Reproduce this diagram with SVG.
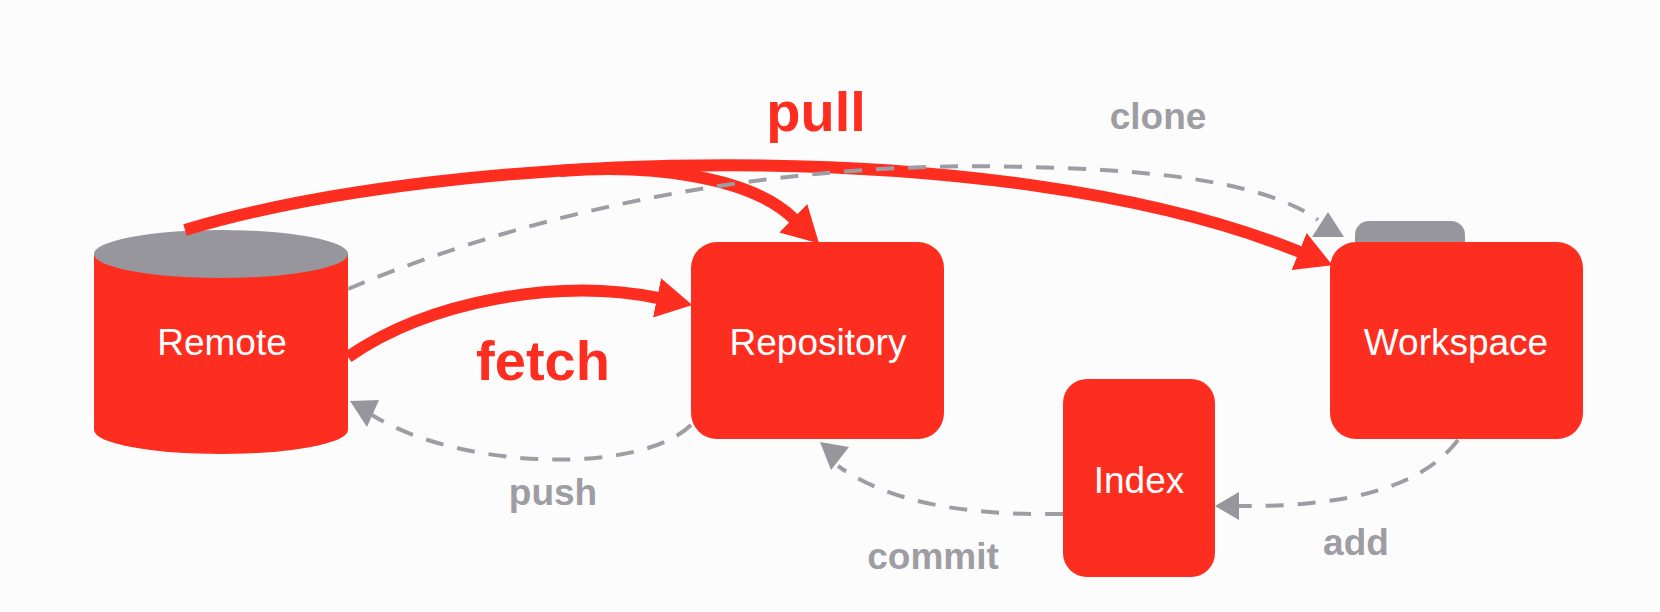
<svg xmlns="http://www.w3.org/2000/svg" width="1660" height="612" viewBox="0 0 1660 612">
<defs>
<style>
.node{fill:#fd2d20;}
.gray{fill:#96969c;}
.ntext{font-family:"Liberation Sans",Arial,sans-serif;font-size:37px;fill:#ffffff;text-anchor:middle;dominant-baseline:central;}
.red{fill:none;stroke:#fd2d20;stroke-width:12;}
.dash{fill:none;stroke:#9d9da3;stroke-width:4;stroke-dasharray:18 14;}
.ghead{fill:#96969c;}
.rlabel{font-family:"Liberation Sans",Arial,sans-serif;font-weight:bold;font-size:56px;fill:#fd2d20;text-anchor:middle;dominant-baseline:central;}
.glabel{font-family:"Liberation Sans",Arial,sans-serif;font-weight:bold;font-size:37px;fill:#9d9da3;text-anchor:middle;dominant-baseline:central;}
</style>
<marker id="redArrow" markerUnits="userSpaceOnUse" markerWidth="36" markerHeight="40" viewBox="0 0 36 40" refX="1" refY="20" orient="auto">
<path d="M0,0 L36,20 L0,40 z" fill="#fd2d20"/>
</marker>
</defs>
<rect x="0" y="0" width="1660" height="612" fill="#fcfcfd"/>

<g id="Remote">
<path class="node" d="M94,254 L94,430 A127,24 0 0 0 348,430 L348,254 z"/>
<ellipse class="gray" cx="221" cy="254" rx="127" ry="24"/>
<text class="ntext" x="222" y="342">Remote</text>
</g>

<g id="Repository">
<rect class="node" x="691" y="242" width="253" height="197" rx="26" ry="26"/>
<text class="ntext" x="818" y="342">Repository</text>
</g>

<g id="Workspace">
<rect class="gray" x="1355" y="221" width="110" height="40" rx="14" ry="14"/>
<rect class="node" x="1330" y="242" width="253" height="197" rx="26" ry="26"/>
<text class="ntext" x="1456" y="342">Workspace</text>
</g>

<g id="Index">
<rect class="node" x="1063" y="379" width="152" height="198" rx="24" ry="24"/>
<text class="ntext" x="1139" y="480">Index</text>
</g>

<g id="connectors">
<path class="red" d="M185,230 C 450,150 1000,130 1300,252" marker-end="url(#redArrow)"/>
<path class="red" d="M560,171 C 650,164 750,176 794,219" marker-end="url(#redArrow)"/>
<path class="red" d="M348,357 C 430,300 560,278 658,298" marker-end="url(#redArrow)"/>

<path class="dash" d="M348,289 C 560,200 800,160 1030,167 C 1170,170 1270,185 1318,220"/>
<polygon class="ghead" points="1328,212 1312,237 1344,237"/>

<path class="dash" d="M691,425 C 640,475 460,470 372,415"/>
<polygon class="ghead" points="350,401 379,400 367,427"/>

<path class="dash" d="M1063,514 C 990,515 900,510 838,466"/>
<polygon class="ghead" points="820,442 849,447 831,470"/>

<path class="dash" d="M1458,440 C 1420,490 1340,507 1239,506"/>
<polygon class="ghead" points="1215,506 1239,492 1239,520"/>
</g>

<g id="labels">
<text class="rlabel" x="816" y="111">pull</text>
<text class="rlabel" x="543" y="360">fetch</text>
<text class="glabel" x="1158" y="116">clone</text>
<text class="glabel" x="553" y="492">push</text>
<text class="glabel" x="933" y="556">commit</text>
<text class="glabel" x="1356" y="542">add</text>
</g>
</svg>
